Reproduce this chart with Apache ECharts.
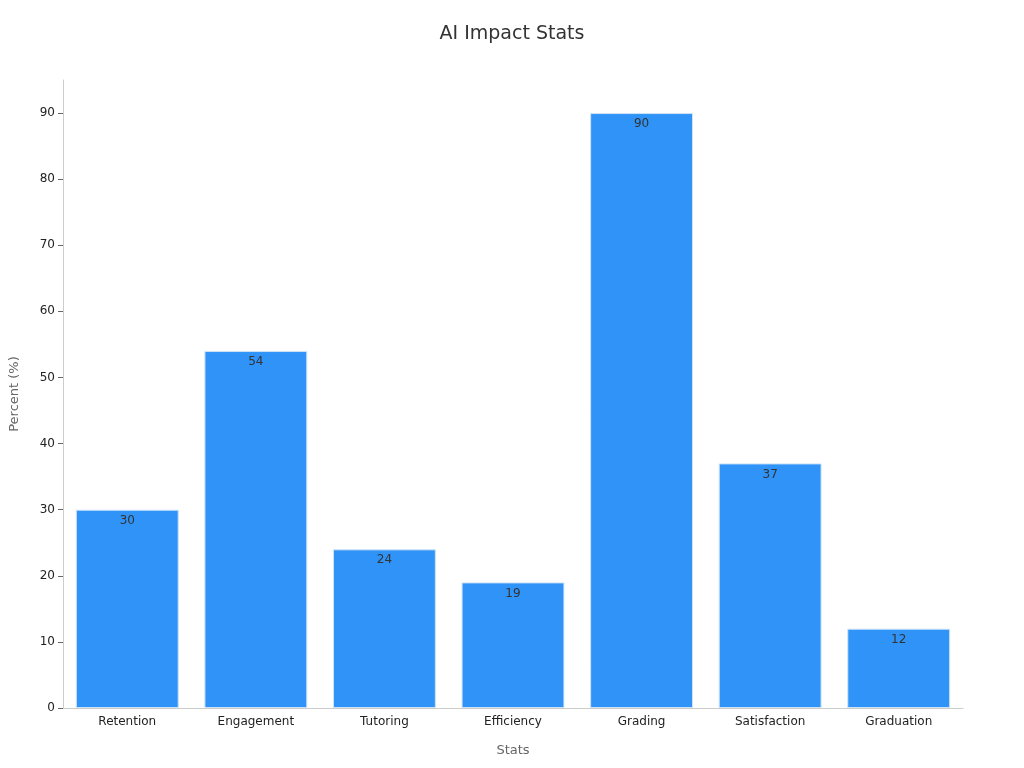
<!DOCTYPE html>
<html style="height: 100%">
<head>
    <meta charset="utf-8">
    <script src="https://cdn.jsdelivr.net/npm/echarts@6/dist/echarts.min.js"></script>
</head>
<body style="height: 100%; margin: 0">
    <div id="main" style="width:1024px;height:768px;"></div>
    <script type="text/javascript">
    var categories = ['Retention', 'Engagement', 'Tutoring', 'Efficiency', 'Grading', 'Satisfaction', 'Graduation'];
    var values = [30, 54, 24, 19, 90, 37, 12];

    var myChart = echarts.init(document.getElementById('main'));
    var option = {
        textStyle: { fontFamily: 'DejaVu Sans' },
        title: {
            text: 'AI Impact Stats',
            left: 'center',
            top: 20,
            textStyle: { fontSize: 19, fontWeight: 'normal', color: '#333' }
        },
        grid: { left: 60, right: 61, top: 80, bottom: 60 },
        xAxis: {
            type: 'category',
            data: categories,
            name: 'Stats',
            nameLocation: 'middle',
            nameGap: 36,
            nameTextStyle: { color: '#666', fontSize: 13 },
            axisLine: { lineStyle: { color: '#ccc' } },
            axisTick: { show: false },
            axisLabel: { color: '#222', fontSize: 12 }
        },
        yAxis: {
            type: 'value',
            min: 0,
            max: 95,
            interval: 10,
            name: 'Percent (%)',
            nameLocation: 'middle',
            nameGap: 42,
            nameTextStyle: { color: '#666', fontSize: 13 },
            axisLine: { show: true, lineStyle: { color: '#ccc' } },
            axisTick: { show: true, lineStyle: { color: '#666' } },
            axisLabel: { color: '#222', fontSize: 12, showMaxLabel: false },
            splitLine: { show: false }
        },
        series: [{
            type: 'bar',
            data: values,
            barCategoryGap: '20%',
            itemStyle: { color: '#2f93f8', borderColor: '#cfe3f7', borderWidth: 1 },
            label: { show: true, position: 'insideTop', color: '#333', fontSize: 12 }
        }]
    };
    myChart.setOption(option);
    </script>
</body>
</html>
